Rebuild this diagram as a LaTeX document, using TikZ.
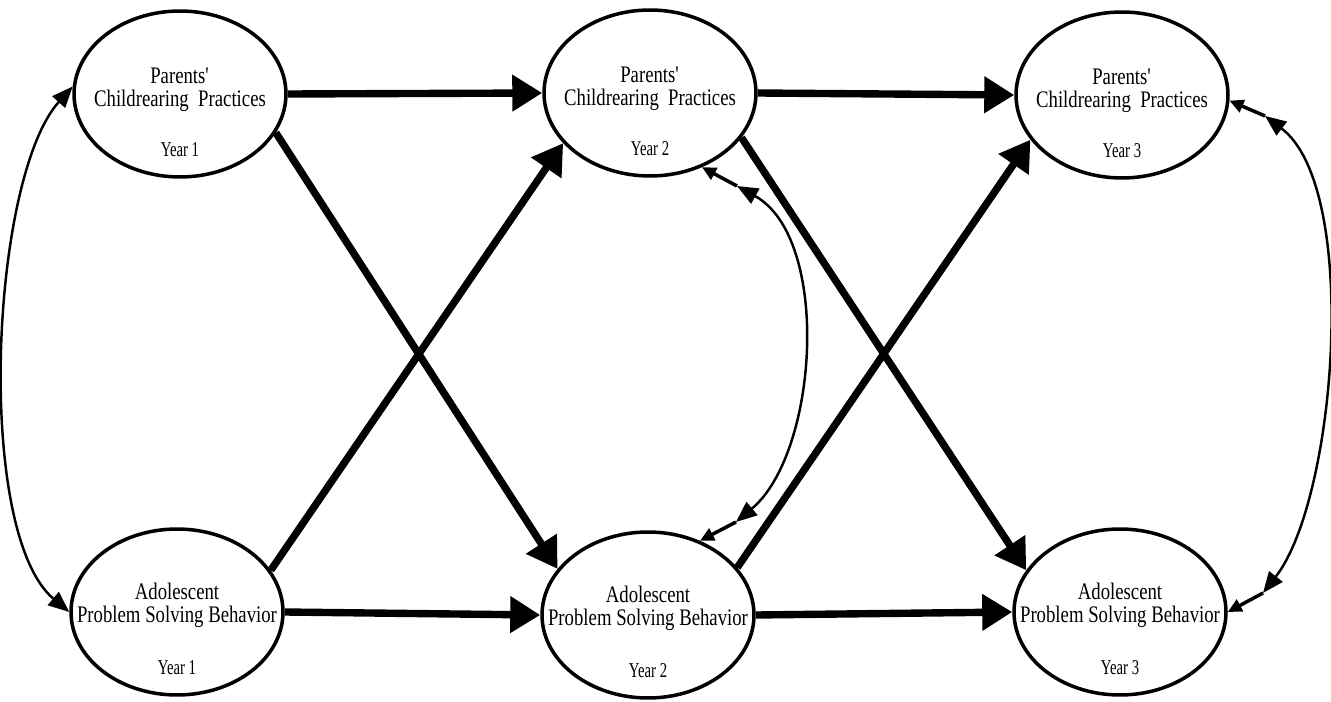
\documentclass[tikz,border=0pt]{standalone}
\usepackage{fontspec}
\setmainfont{Liberation Serif}[FakeStretch=0.79]
\newfontfamily\yearfont{Liberation Serif}[FakeStretch=0.7]
\usetikzlibrary{arrows.meta,shapes.geometric}

\begin{document}
\begin{tikzpicture}[x=0.02cm, y=0.02cm,
  construct/.style={ellipse, draw, line width=2pt, minimum width=4.24cm,
    minimum height=3.32cm, inner sep=0pt},
  title/.style={align=center, inner sep=0pt, font=\fontsize{13.5}{12.8}\selectfont},
  wave/.style={anchor=base, inner sep=0pt, font=\yearfont\fontsize{12}{12}\selectfont},
  effect/.style={line width=4.2pt, -{Triangle[length=6mm,width=7mm]}},
  covar/.style={line width=1.4pt,
    {Triangle[length=4.2mm,width=3.4mm]}-{Triangle[length=4.2mm,width=3.4mm]}},
  resid/.style={line width=2pt, -{Triangle[length=2.8mm,width=2.6mm]}}]
\useasboundingbox (0,0) rectangle (1331,-702);

% parents, years 1-3
\node[construct] (P1) at (180,-94) {};
\node[title] at ([yshift=0.8mm]P1.center) {Parents\textquotesingle\\Childrearing\ \ Practices};
\node[wave] at ([yshift=-12.6mm]P1.center) {Year 1};
\node[construct] (P2) at (650,-93) {};
\node[title] at ([yshift=0.8mm]P2.center) {Parents\textquotesingle\\Childrearing\ \ Practices};
\node[wave] at ([yshift=-12.6mm]P2.center) {Year 2};
\node[construct] (P3) at (1122,-95) {};
\node[title] at ([yshift=0.8mm]P3.center) {Parents\textquotesingle\\Childrearing\ \ Practices};
\node[wave] at ([yshift=-12.6mm]P3.center) {Year 3};

% adolescents, years 1-3
\node[construct] (A1) at (177,-612) {};
\node[title] at ([yshift=1.3mm]A1.center) {Adolescent\\Problem Solving Behavior};
\node[wave] at ([yshift=-12.6mm]A1.center) {Year 1};
\node[construct] (A2) at (648,-615) {};
\node[title] at ([yshift=1.3mm]A2.center) {Adolescent\\Problem Solving Behavior};
\node[wave] at ([yshift=-12.6mm]A2.center) {Year 2};
\node[construct] (A3) at (1120,-612) {};
\node[title] at ([yshift=1.3mm]A3.center) {Adolescent\\Problem Solving Behavior};
\node[wave] at ([yshift=-12.6mm]A3.center) {Year 3};

% stability paths
\draw[effect] (P1.east) -- (P2.west);
\draw[effect] (P2.east) -- (P3.west);
\draw[effect] (A1.east) -- (A2.west);
\draw[effect] (A2.east) -- (A3.west);
% cross-lagged paths
\draw[effect] (P1.-22) -- (A2.153);
\draw[effect] (A1.24) -- (P2.210);
\draw[effect] (P2.-26) -- (A3.156);
\draw[effect] (A2.28) -- (P3.206);

% disturbances and their covariances
\coordinate (d2p) at (737,-186);
\coordinate (d2a) at (736,-522);
\coordinate (d3p) at (1265,-116);
\coordinate (d3a) at (1263,-593);
\draw[resid] (d2p) -- (P2.-55);
\draw[resid] (d2a) -- (A2.55);
\draw[resid] (d3p) -- (P3.-3);
\draw[resid] (d3a) -- (A3.east);
\draw[covar] (P1.176) to[out=228, in=140, looseness=0.6] (A1.west);
\draw[covar] (d2p) to[out=-29, in=40, looseness=0.82] (d2a);
\draw[covar] (d3p) to[out=-37, in=52, looseness=0.64] (d3a);
%\draw[help lines] (0,0) grid (1331,-702);
\end{tikzpicture}
\end{document}
